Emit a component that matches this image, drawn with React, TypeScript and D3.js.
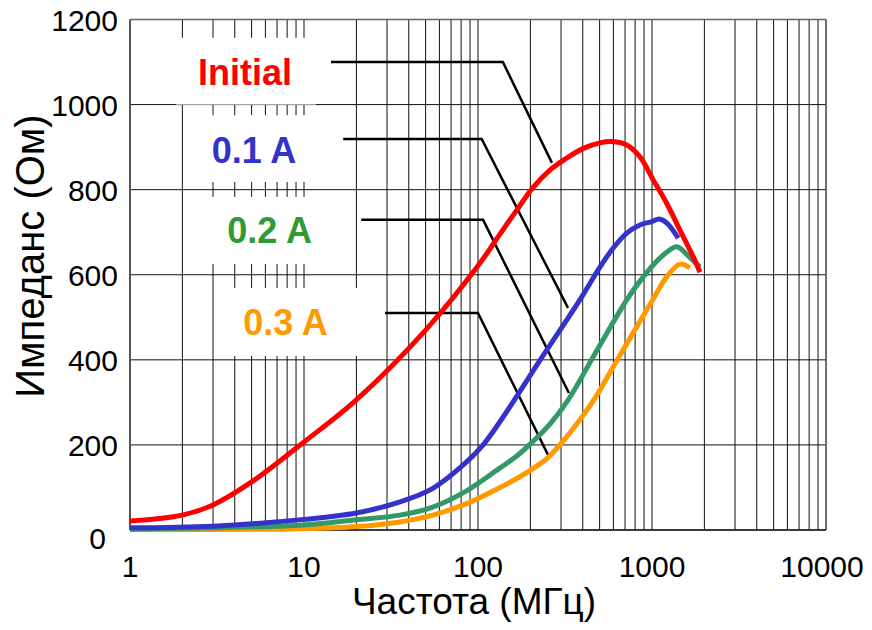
import React from "react";
import * as d3 from "d3";

const W = 872;
const H = 630;

// Axis ticks
const freqTicks = [1, 10, 100, 1000, 10000];
const impTicks = [0, 200, 400, 600, 800, 1000, 1200];

// Series: frequency (MHz) and impedance (Ohm)
const initialF = [1, 2, 3, 5, 10, 20, 50, 100, 134, 167, 208, 259, 323, 403, 502, 586, 716, 853, 1016, 1214, 1448, 1727, 1887];
const initialZ = [21, 35, 59, 113, 207, 306, 470, 621, 696, 752, 806, 846, 874, 897, 910, 913, 905, 877, 823, 768, 705, 642, 606];

const a01F = [1, 3, 10, 20, 35.6, 55, 86, 107, 134, 228, 385, 502, 599, 716, 853, 1000, 1100, 1214, 1416];
const a01Z = [5, 9, 25, 40, 66, 98, 160, 200, 255, 400, 541, 618, 663, 698, 717, 725, 731, 722, 686];

const a02F = [1, 10, 20, 35.6, 55, 86, 134, 167, 208, 259, 330, 480, 716, 853, 1016, 1214, 1390, 1620, 1887];
const a02Z = [2, 12, 24, 35, 54, 92, 146, 174, 209, 249, 306, 421, 541, 585, 623, 653, 666, 644, 618];

const a03F = [1, 10, 20, 35.6, 55, 86, 134, 167, 208, 248, 323, 403, 470, 655, 1016, 1214, 1448, 1652];
const a03Z = [1, 3, 8, 19, 35, 62, 100, 121, 145, 167, 219, 270, 310, 411, 543, 595, 625, 616];

const seriesNames = ["Initial", "0.1 A", "0.2 A", "0.3 A"];
const lineColors = ["#ff0000", "#3333cc", "#339966", "#ff9900"];
const labelColors = ["#ff0000", "#3333cc", "#339933", "#ff9900"];

// Annotation layout in data units
const labelF = [4.58, 5.16, 6.34, 7.83];
const labelZ = [1046, 863, 675, 458];
const boxF0 = [1.84, 2.1, 2.1, 3.08];
const boxF1 = [11.7, 15.1, 17.2, 27.3];
const boxZ0 = [1157, 975, 783, 569];
const boxZ1 = [1000, 818, 625, 409];
const leadStartF = [14.3, 16.8, 21.3, 29.2];
const leadElbowF = [139, 105, 107, 100];
const leadZ = [1100, 919, 729, 510];
const leadEndF = [266, 329, 333, 256];
const leadEndZ = [863, 522, 322, 172];

const FONT = "'Liberation Sans', Arial, Helvetica, sans-serif";

export default function App() {
  const x = d3.scaleLog().domain([1, 10000]).range([130, 826]);
  const y = d3.scaleLinear().domain([0, 1200]).range([530, 19.5]);

  const series = [
    initialF.map((f, i) => [f, initialZ[i]]),
    a01F.map((f, i) => [f, a01Z[i]]),
    a02F.map((f, i) => [f, a02Z[i]]),
    a03F.map((f, i) => [f, a03Z[i]]),
  ] as [number, number][][];

  const line = d3
    .line<[number, number]>()
    .x((d) => x(d[0]))
    .y((d) => y(d[1]))
    .curve(d3.curveCatmullRom.alpha(0.5));

  const vGrid: number[] = [];
  for (let k = 0; k < 4; k++) {
    for (let m = 1; m <= 9; m++) vGrid.push(m * Math.pow(10, k));
  }
  vGrid.push(10000);

  const drawOrder = [3, 2, 1, 0];

  return (
    <svg
      width={W}
      height={H}
      style={{ position: "absolute", left: 0, top: 0, background: "#fff" }}
      fontFamily={FONT}
    >
      <rect x={0} y={0} width={W} height={H} fill="#fff" />
      {/* vertical grid */}
      {vGrid.map((f, i) => (
        <line key={"v" + i} x1={x(f)} x2={x(f)} y1={y(1200)} y2={y(0)} stroke="#111" strokeWidth={1} />
      ))}
      {/* horizontal grid */}
      {impTicks.map((t) => (
        <line key={"h" + t} x1={x(1)} x2={x(10000)} y1={y(t)} y2={y(t)} stroke="#111" strokeWidth={1} />
      ))}
      {/* frame */}
      <line x1={x(1)} x2={x(1)} y1={y(1200)} y2={y(0)} stroke="#555" strokeWidth={2} />
      <line x1={x(1)} x2={x(10000)} y1={y(1200)} y2={y(1200)} stroke="#666" strokeWidth={1.5} />
      <line x1={x(10000)} x2={x(10000)} y1={y(1200)} y2={y(0)} stroke="#666" strokeWidth={1.5} />
      <line x1={x(1)} x2={x(10000)} y1={y(0)} y2={y(0)} stroke="#222" strokeWidth={1.5} />

      {/* label backgrounds */}
      {seriesNames.map((n, i) => (
        <rect
          key={"b" + i}
          x={x(boxF0[i])}
          y={y(boxZ0[i])}
          width={x(boxF1[i]) - x(boxF0[i])}
          height={y(boxZ1[i]) - y(boxZ0[i])}
          fill="#fff"
        />
      ))}

      {/* leaders */}
      {seriesNames.map((n, i) => (
        <polyline
          key={"l" + i}
          points={`${x(leadStartF[i])},${y(leadZ[i])} ${x(leadElbowF[i])},${y(leadZ[i])} ${x(leadEndF[i])},${y(leadEndZ[i])}`}
          fill="none"
          stroke="#000"
          strokeWidth={2.5}
        />
      ))}

      {/* curves */}
      {drawOrder.map((i) => (
        <path
          key={"c" + i}
          d={line(series[i]) || ""}
          fill="none"
          stroke={lineColors[i]}
          strokeWidth={5}
          strokeLinejoin="round"
        />
      ))}

      {/* labels */}
      {seriesNames.map((n, i) => (
        <text
          key={"t" + i}
          x={x(labelF[i])}
          y={y(labelZ[i])}
          textAnchor="middle"
          fontSize={36}
          fontWeight="bold"
          fill={labelColors[i]}
        >
          {n}
        </text>
      ))}

      {/* y tick labels */}
      {impTicks.map((t) => (
        <text
          key={"yl" + t}
          x={t === 0 ? 106 : 118}
          y={y(t) + (t === 0 ? 8 : 1)}
          textAnchor="end"
          dominantBaseline="central"
          fontSize={30}
          fill="#000"
        >
          {t}
        </text>
      ))}

      {/* x tick labels */}
      {freqTicks.map((f) => (
        <text
          key={"xl" + f}
          x={x(f) - (f === 10000 ? 4 : 0)}
          y={577}
          textAnchor="middle"
          fontSize={30}
          fill="#000"
        >
          {f}
        </text>
      ))}

      {/* axis titles */}
      <text x={474} y={614} textAnchor="middle" fontSize={37} fill="#000">
        Частота (МГц)
      </text>
      <text
        transform="translate(30,256) rotate(-90)"
        textAnchor="middle"
        dominantBaseline="central"
        fontSize={40}
        fill="#000"
      >
        Импеданс (Ом)
      </text>
    </svg>
  );
}
